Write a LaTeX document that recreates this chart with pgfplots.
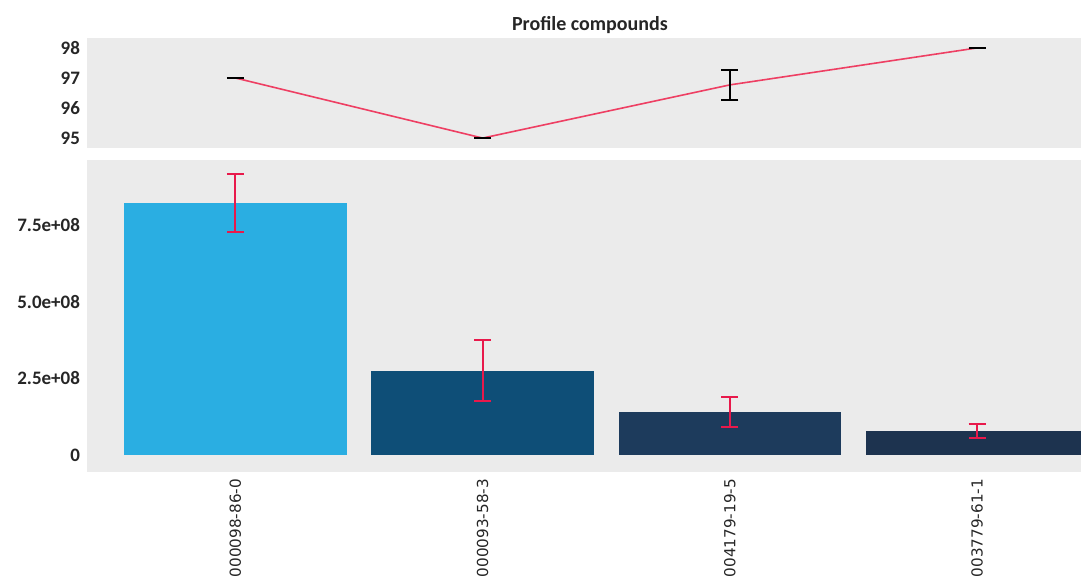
\documentclass[border=0pt]{standalone}
\usepackage{pgfplots}
\pgfplotsset{compat=1.18}
\usepackage{fontspec}
\setmainfont{Carlito}
\newfontfamily\labfont{DejaVu Sans}
\definecolor{panel}{HTML}{EBEBEB}
\definecolor{lineRed}{HTML}{EE3F63}
\definecolor{errRed}{HTML}{E8194B}
\definecolor{barA}{HTML}{2AAEE2}
\definecolor{barB}{HTML}{0E4E77}
\definecolor{barC}{HTML}{1D3B5C}
\definecolor{barD}{HTML}{1D334F}
\begin{document}
\begin{tikzpicture}
\useasboundingbox[fill=white] (0,0) rectangle (540.5pt,289.5pt);
\pgfplotsset{
  common/.style={
    scale only axis,
    width=497pt,
    xmin=-0.6, xmax=3.42,
    axis line style={draw=none},
    tick style={draw=none},
    axis background/.style={fill=panel},
    yticklabel style={font=\fontsize{9.5}{10}\selectfont\bfseries, text=black!85},
    /pgf/number format/assume math mode=true,
    scaled y ticks=false,
    clip=false,
  }
}
% top panel
\begin{axis}[common,
  at={(43.5pt,215.5pt)}, anchor=south west,
  height=55pt,
  ymin=94.67, ymax=98.33,
  ytick={95,96,97,98},
  xtick=\empty,
]
\addplot[lineRed, line width=0.8pt, mark=none,
  error bars/.cd, y dir=both, y explicit,
  error bar style={black, line width=0.7pt},
  error mark options={rotate=90, mark size=4.25pt, black, line width=0.9pt}]
  coordinates {(0,97.0) +- (0,0.005) (1,95.0) +- (0,0.005) (2,96.77) +- (0,0.5) (3,98.0) +- (0,0.005)};
\end{axis}
% bottom panel
\begin{axis}[common,
  at={(43.5pt,53.5pt)}, anchor=south west,
  height=156pt,
  ymin=-0.554e8, ymax=9.615e8,
  ytick={0,2.5e8,5e8,7.5e8},
  yticklabels={0,2.5e+08,5.0e+08,7.5e+08},
  xtick={0,1,2,3},
  xticklabels={000098-86-0,000093-58-3,004179-19-5,003779-61-1},
  xticklabel style={rotate=90, anchor=east, font=\labfont\fontsize{7.6}{8}\selectfont, text=black!85},
  bar width=0.9,
]
\addplot[ybar, bar shift=0, fill=barA, draw=none] coordinates {(0,8.21e8)};
\addplot[ybar, bar shift=0, fill=barB, draw=none] coordinates {(1,2.74e8)};
\addplot[ybar, bar shift=0, fill=barC, draw=none] coordinates {(2,1.40e8)};
\addplot[ybar, bar shift=0, fill=barD, draw=none] coordinates {(3,0.78e8)};
\addplot[draw=none, mark=none,
  error bars/.cd, y dir=both, y explicit,
  error bar style={errRed, line width=0.9pt},
  error mark options={rotate=90, mark size=4.25pt, errRed, line width=0.9pt}]
  coordinates {(0,8.21e8) +- (0,0.945e8) (1,2.75e8) +- (0,1.0e8) (2,1.40e8) +- (0,0.49e8) (3,0.78e8) +- (0,0.23e8)};
\end{axis}
\node[font=\fontsize{10}{12}\selectfont\bfseries, text=black!85] at (295pt,277pt) {Profile compounds};
\end{tikzpicture}
\end{document}
